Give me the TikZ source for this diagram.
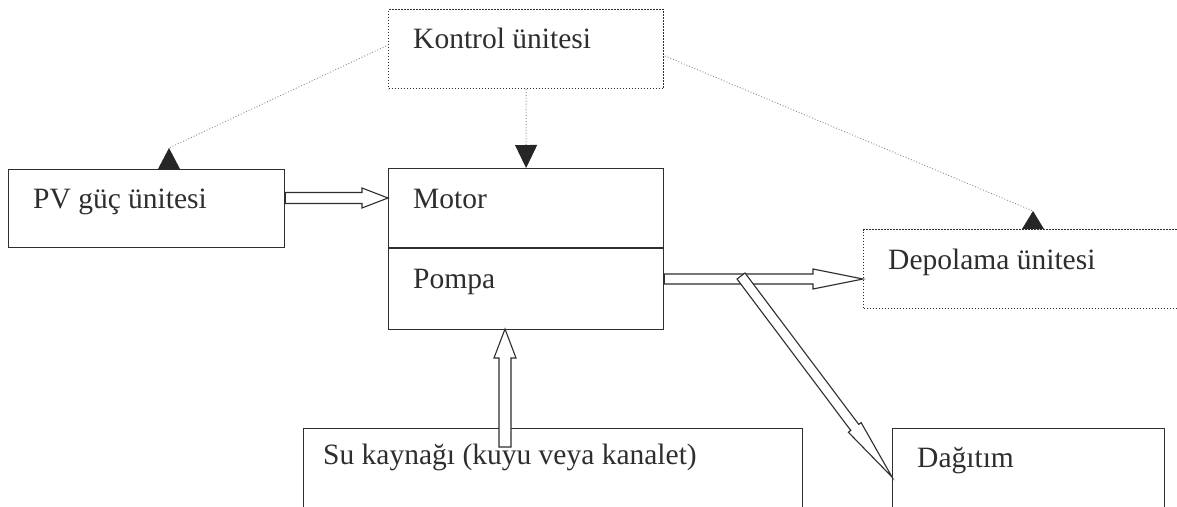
\documentclass[tikz,border=0pt]{standalone}
\usepackage{fontspec}
\setmainfont{Liberation Serif}
\usetikzlibrary{arrows.meta,calc}
\definecolor{ink}{HTML}{2E2E2E}
\definecolor{dotink}{HTML}{8A8A8A}
\tikzset{
  solidbox/.style={draw=ink, line width=1.2pt, rectangle, inner sep=0pt, anchor=north west},
  dotbox/.style={draw=ink, line width=1.1pt, dash pattern=on 1.1pt off 1.9pt, rectangle, inner sep=0pt, anchor=north west},
  txt/.style={anchor=base west, inner sep=0pt, text=ink, font=\fontsize{29.5}{32}\selectfont},
  ctrlline/.style={draw=dotink, line width=0.9pt, dash pattern=on 0.9pt off 2pt},
  ctrl/.style={ctrlline, -{Triangle[width=22pt,length=23pt,color=black!85]}},
  uptri/.style={fill=black!85},
  hollow/.style={draw=ink, line width=1.1pt, fill=white, line join=miter},
}
\newcommand\hollowarrow[5]{% start, end, shaft half width, head length, head half width
  \pgfmathanglebetweenpoints{\pgfpointanchor{#1}{center}}{\pgfpointanchor{#2}{center}}%
  \let\haang\pgfmathresult
  \pgfpointdiff{\pgfpointanchor{#1}{center}}{\pgfpointanchor{#2}{center}}%
  \pgfgetlastxy{\hadx}{\hady}%
  \pgfmathsetmacro\halen{veclen(\hadx,\hady)}%
  \begin{scope}[shift={(#1)}, rotate=\haang]
    \draw[hollow] (0pt,-#3) -- ({(\halen-#4)*1pt},-#3) -- ({(\halen-#4)*1pt},-#5)
      -- ({\halen*1pt},0pt) -- ({(\halen-#4)*1pt},#5) -- ({(\halen-#4)*1pt},#3)
      -- (0pt,#3) -- cycle;
  \end{scope}}
\begin{document}
\begin{tikzpicture}[x=1pt,y=-1pt]
\useasboundingbox[fill=white] (0,0) rectangle (1177,506);

% boxes
\node[dotbox, minimum width=275pt, minimum height=79pt] (kontrol) at (388,9) {};
\node[solidbox, minimum width=276pt, minimum height=78pt] (pv) at (8,169) {};
\node[solidbox, minimum width=275pt, minimum height=161pt] (mp) at (388,168) {};
\draw[ink, line width=1.2pt] (mp.west |- 0,248) coordinate (divl) -- (mp.east |- 0,248) coordinate (divr);
\node[dotbox, minimum width=330pt, minimum height=79pt] (depo) at (863,229) {};
\node[solidbox, minimum width=499pt, minimum height=100pt] (su) at (303,428) {};
\node[solidbox, minimum width=272pt, minimum height=100pt] (dag) at (892,428) {};

% texts
\node[txt] (tkontrol) at (413,48) {Kontrol ünitesi};
\node[txt] (tpv) at (33,208) {PV güç ünitesi};
\node[txt] (tmotor) at (413,208) {Motor};
\node[txt] (tpompa) at (413,288) {Pompa};
\node[txt] (tdepo) at (888,269) {Depolama ünitesi};
\node[txt] (tsu) at (323,464) {Su kaynağı (kuyu veya kanalet)};
\node[txt] (tdag) at (917,467) {Dağıtım};

% control connectors
\coordinate (kl) at (386,46);
\coordinate (kr) at (665,56);
\coordinate (pvapex) at (169,148);
\coordinate (depoapex) at (1033,211);
\draw[ctrlline] (kl) -- (pvapex);
\fill[uptri] (pvapex) -- ($(pv.north west)+(150,0)$) -- ($(pv.north west)+(172,0)$) -- cycle;
\draw[ctrl] (kontrol.south) -- (mp.north);
\draw[ctrlline] (kr) -- (depoapex);
\fill[uptri] (depoapex) -- ($(depo.north west)+(159,0)$) -- ($(depo.north west)+(181,0)$) -- cycle;

% flow arrows
\coordinate (pvout) at (pv.east |- 0,198);
\coordinate (motorin) at (mp.west |- 0,198);
\hollowarrow{pvout}{motorin}{5.5pt}{26}{10pt}
\coordinate (pout) at (mp.east |- 0,279);
\coordinate (depoin) at (depo.west |- 0,279);
\hollowarrow{pout}{depoin}{5pt}{50}{10pt}
\coordinate (split) at (741,276);
\coordinate (dagin) at (892,477);
\hollowarrow{split}{dagin}{5pt}{62}{8pt}
\coordinate (suout) at (505,447);
\coordinate (pumpin) at (505,329);
\hollowarrow{suout}{pumpin}{6pt}{29}{11pt}
\end{tikzpicture}
\end{document}
